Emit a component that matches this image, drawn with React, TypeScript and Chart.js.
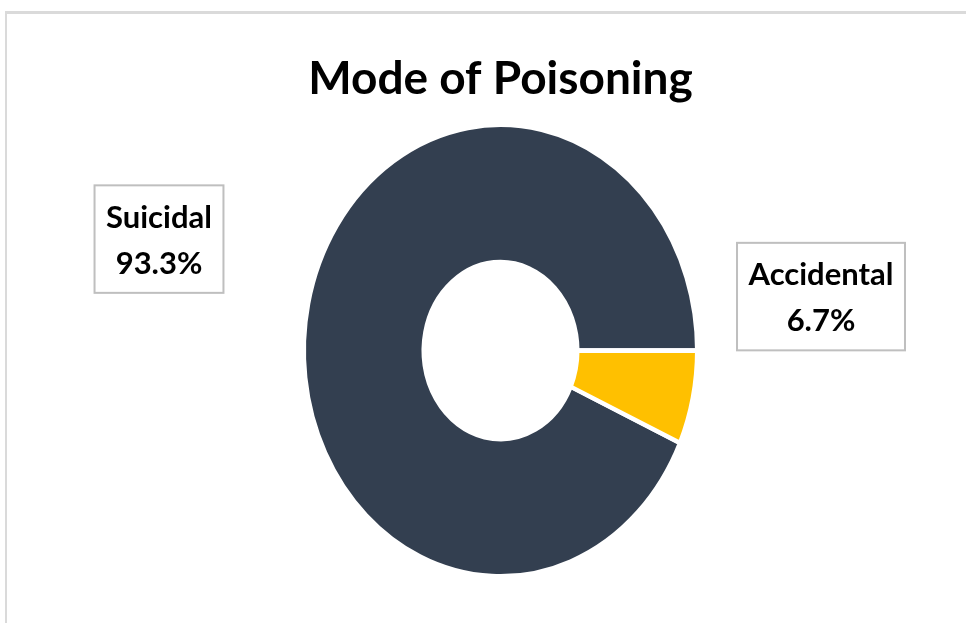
import React, { useEffect, useRef } from "react";
import { Chart, registerables } from "chart.js";

Chart.register(...registerables);

const chartTitle = "Mode of Poisoning";
const categories = ["Suicidal", "Accidental"];
const shares = [93.3, 6.7];
const sliceColors = ["#333F50", "#FFC000"];

const FONT = "Lato, 'Open Sans', sans-serif";

const ellipsePlugin = {
  id: "ellipse",
  beforeDatasetsDraw(chart: any, _args: any, opts: any) {
    const arc = chart.getDatasetMeta(0).data[0];
    const ctx = chart.ctx;
    ctx.save();
    ctx.translate(arc.x, arc.y);
    ctx.scale(1, opts.scaleY);
    ctx.translate(-arc.x, -arc.y);
  },
  afterDatasetsDraw(chart: any) {
    chart.ctx.restore();
  },
};

const boxLabelPlugin = {
  id: "boxLabels",
  afterDraw(chart: any, _args: any, opts: any) {
    const meta = chart.getDatasetMeta(0);
    const ctx = chart.ctx;
    const labels = chart.data.labels as string[];
    const values = chart.data.datasets[0].data as number[];
    meta.data.forEach((arc: any, i: number) => {
      const off = opts.offsets[i];
      const cx = arc.x + off[0];
      const cy = arc.y + off[1];
      const lines = [labels[i], values[i].toFixed(1) + "%"];
      ctx.save();
      ctx.font = `bold ${opts.fontSize}px ${FONT}`;
      const w = Math.max(...lines.map((l) => ctx.measureText(l).width)) + 2 * opts.padX;
      const h = opts.boxHeight;
      const left = cx - w / 2;
      const top = cy - h / 2;
      ctx.fillStyle = "#ffffff";
      ctx.fillRect(left, top, w, h);
      ctx.strokeStyle = "#BFBFBF";
      ctx.lineWidth = 2;
      ctx.strokeRect(left, top, w, h);
      ctx.fillStyle = "#000000";
      ctx.textAlign = "center";
      ctx.textBaseline = "alphabetic";
      lines.forEach((l, k) => {
        ctx.fillText(l, cx, top + opts.firstBaseline + k * opts.lineGap);
      });
      ctx.restore();
    });
  },
};

export default function App() {
  const ref = useRef<HTMLCanvasElement | null>(null);

  useEffect(() => {
    if (!ref.current) return;
    const accidentalShare = shares[1] / shares.reduce((a, b) => a + b, 0);
    const chart = new Chart(ref.current, {
      type: "doughnut",
      data: {
        labels: categories,
        datasets: [
          {
            data: shares,
            backgroundColor: sliceColors,
            borderColor: "#ffffff",
            borderWidth: 4,
            hoverOffset: 0,
          },
        ],
      },
      options: {
        responsive: false,
        maintainAspectRatio: false,
        animation: false,
        radius: 196.5,
        cutout: "39.2%",
        rotation: 90 + 360 * accidentalShare,
        layout: { padding: { left: 35, right: 0, top: 0, bottom: 29 } },
        events: [],
        plugins: {
          legend: { display: false },
          tooltip: { enabled: false },
          title: {
            display: true,
            text: chartTitle,
            color: "#000000",
            font: { family: FONT, size: 46, weight: "bold", lineHeight: 1.2 },
            padding: { top: 52, bottom: 0 },
          },
          ellipse: { scaleY: 1.149 },
          boxLabels: {
            offsets: [
              [-341.5, -111.5],
              [320.5, -54],
            ],
            fontSize: 31,
            padX: 11.5,
            boxHeight: 107.5,
            firstBaseline: 42.5,
            lineGap: 46,
          },
        } as any,
      },
      plugins: [ellipsePlugin, boxLabelPlugin],
    } as any);
    return () => chart.destroy();
  }, []);

  return (
    <div
      style={{
        position: "fixed",
        left: 0,
        top: 0,
        width: 966,
        height: 623,
        background: "#ffffff",
        overflow: "hidden",
      }}
    >
      <canvas ref={ref} width={966} height={623} style={{ position: "absolute", left: 0, top: 0 }} />
      <div
        style={{
          position: "absolute",
          left: 5,
          top: 11,
          right: 0,
          bottom: 0,
          borderTop: "3px solid #DADADA",
          borderLeft: "2px solid #DADADA",
          pointerEvents: "none",
        }}
      />
    </div>
  );
}
